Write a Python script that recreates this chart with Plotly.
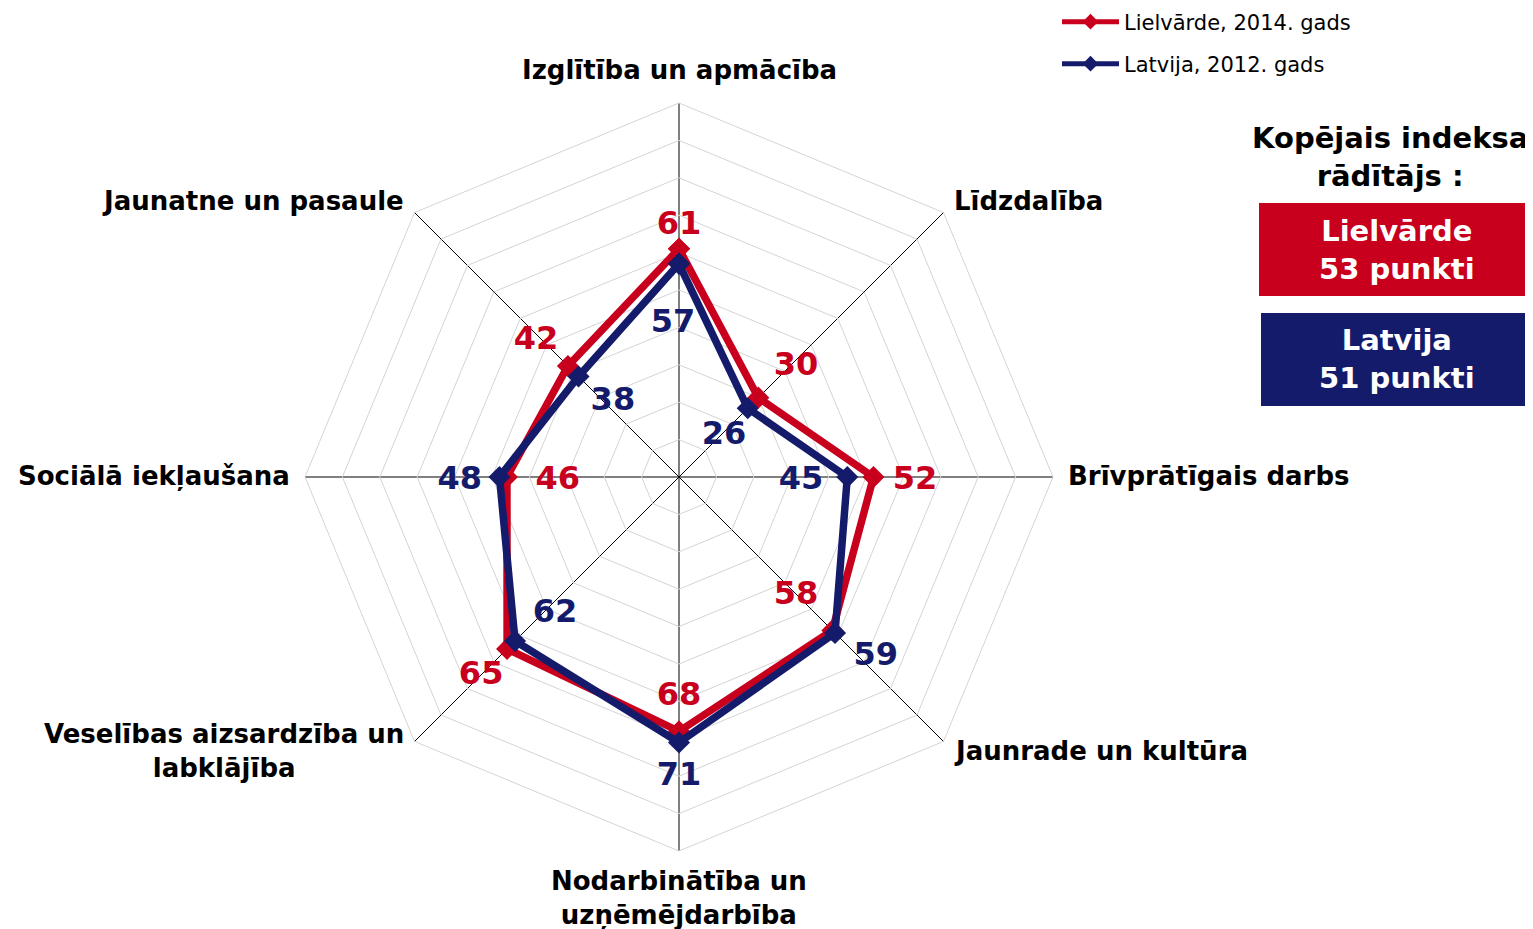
import plotly.graph_objects as go

# ---------------- data ----------------
categories = ["Izglītība un apmācība", "Līdzdalība", "Brīvprātīgais darbs",
              "Jaunrade un kultūra", "Nodarbinātība un uzņēmējdarbība",
              "Veselības aizsardzība un labklājība", "Sociālā iekļaušana",
              "Jaunatne un pasaule"]
category_labels = ["Izglītība un apmācība", "Līdzdalība", "Brīvprātīgais darbs",
                   "Jaunrade un kultūra", "Nodarbinātība un<br>uzņēmējdarbība",
                   "Veselības aizsardzība un<br>labklājība", "Sociālā iekļaušana",
                   "Jaunatne un pasaule"]
lielvarde_2014 = [61, 30, 52, 58, 68, 65, 46, 42]
latvija_2012 = [57, 26, 45, 59, 71, 62, 48, 38]
series_names = ["Lielvārde, 2014. gads", "Latvija, 2012. gads"]
total_names = ["Lielvārde", "Latvija"]
total_points = [53, 51]
panel_title = "Kopējais indeksa<br>rādītājs :"

# ---------------- styling / label placement ----------------
RED = "#C8001E"
BLUE = "#151B6B"
FONT = "DejaVu Sans"
OFF = 8                      # page body margin
W, H = 1533 - OFF, 929 - OFF
CX, CY, R = 679, 477, 374    # polar centre and radius in page pixels
LBL_DY = 4                   # value labels: optical vertical correction

red_label_r = [68.2, 43.7, 63.1, 43.9, 57.8, 74.3, 32.4, 53.5]
red_label_theta = [0, 45.7, 90, 134.5, 180, 225.4, 270, 314.4]
blue_label_r = [42, 17, 32.6, 70.6, 79.1, 48.6, 58.6, 27.5]
blue_label_theta = [357.8, 45, 90, 131.8, 180, 223, 270, 320]

# category label anchor pixels (x, y, xanchor)
cat_pos = [(679, 70, "center"), (952, 201, "left"), (1066, 476, "left"),
           (952, 751, "left"), (679, 898, "center"), (406, 751, "right"),
           (292, 476, "right"), (406, 201, "right")]


def px(x):
    return (x - OFF) / W


def py(y):
    return 1 - (y - OFF) / H


dom_x = [px(CX - R), px(CX + R)]
dom_y = [py(CY + R), py(CY - R)]
dom_y2 = [py(CY + R + LBL_DY), py(CY - R + LBL_DY)]

fig = go.Figure()

for vals, name, col in [(lielvarde_2014, series_names[0], RED),
                        (latvija_2012, series_names[1], BLUE)]:
    fig.add_trace(go.Scatterpolar(
        r=vals + vals[:1], theta=categories + categories[:1],
        mode="lines+markers", name=name,
        line=dict(color=col, width=7.5),
        marker=dict(symbol="diamond", size=17, color=col),
        subplot="polar", legend="legend" if col == RED else "legend2",
    ))

for vals, rr, tt, col in [(lielvarde_2014, red_label_r, red_label_theta, RED),
                          (latvija_2012, blue_label_r, blue_label_theta, BLUE)]:
    fig.add_trace(go.Scatterpolar(
        r=rr, theta=tt, mode="text", text=[str(v) for v in vals],
        textposition="middle center",
        textfont=dict(family=FONT, size=32, color=col, weight="bold"),
        subplot="polar2", showlegend=False, cliponaxis=False, hoverinfo="skip",
    ))

annotations = []
for lab, (x, y, xa) in zip(category_labels, cat_pos):
    annotations.append(dict(
        x=px(x), y=py(y), xref="paper", yref="paper", text=lab,
        showarrow=False, xanchor=xa, yanchor="middle", align="center",
        font=dict(family=FONT, size=26, color="black", weight="bold"),
    ))

annotations.append(dict(
    x=px(1390), y=py(157), xref="paper", yref="paper", text=panel_title,
    showarrow=False, xanchor="center", yanchor="middle", align="center",
    font=dict(family=FONT, size=29, color="black", weight="bold"),
))

shapes = []
boxes = [(1259, 203, 1533, 296, RED), (1261, 313, 1533, 406, BLUE)]
for (x0, y0, x1, y1, col), nm, pts in zip(boxes, total_names, total_points):
    shapes.append(dict(type="rect", xref="paper", yref="paper",
                       x0=px(x0), x1=px(x1), y0=py(y1), y1=py(y0),
                       fillcolor=col, line=dict(width=0)))
    annotations.append(dict(
        x=px(1397), y=py((y0 + y1) / 2), xref="paper", yref="paper",
        text=f"{nm}<br>{pts} punkti", showarrow=False,
        xanchor="center", yanchor="middle", align="center",
        font=dict(family=FONT, size=29, color="white", weight="bold"),
    ))

legend_common = dict(
    xanchor="left", yanchor="middle", bgcolor="rgba(0,0,0,0)",
    font=dict(family=FONT, size=21, color="black"),
    itemsizing="constant", itemwidth=57,
)

fig.update_layout(
    width=W, height=H,
    margin=dict(l=0, r=0, t=0, b=0, autoexpand=False),
    paper_bgcolor="white", plot_bgcolor="white",
    showlegend=True,
    legend=dict(x=px(1057), y=py(22), **legend_common),
    legend2=dict(x=px(1057), y=py(64), **legend_common),
    polar=dict(
        domain=dict(x=dom_x, y=dom_y), gridshape="linear", bgcolor="white",
        radialaxis=dict(range=[0, 100], dtick=10, tick0=0, showticklabels=False,
                        ticks="", showline=False, gridcolor="#D4D4D4", gridwidth=1),
        angularaxis=dict(direction="clockwise", rotation=90, showticklabels=False,
                         ticks="", gridcolor="black", gridwidth=1.2,
                         linecolor="#D4D4D4", linewidth=1),
    ),
    polar2=dict(
        domain=dict(x=dom_x, y=dom_y2), bgcolor="rgba(0,0,0,0)",
        radialaxis=dict(range=[0, 100], visible=False),
        angularaxis=dict(type="linear", direction="clockwise", rotation=90,
                         thetaunit="degrees", visible=False),
    ),
    annotations=annotations, shapes=shapes,
)

fig.write_html("out.html")
